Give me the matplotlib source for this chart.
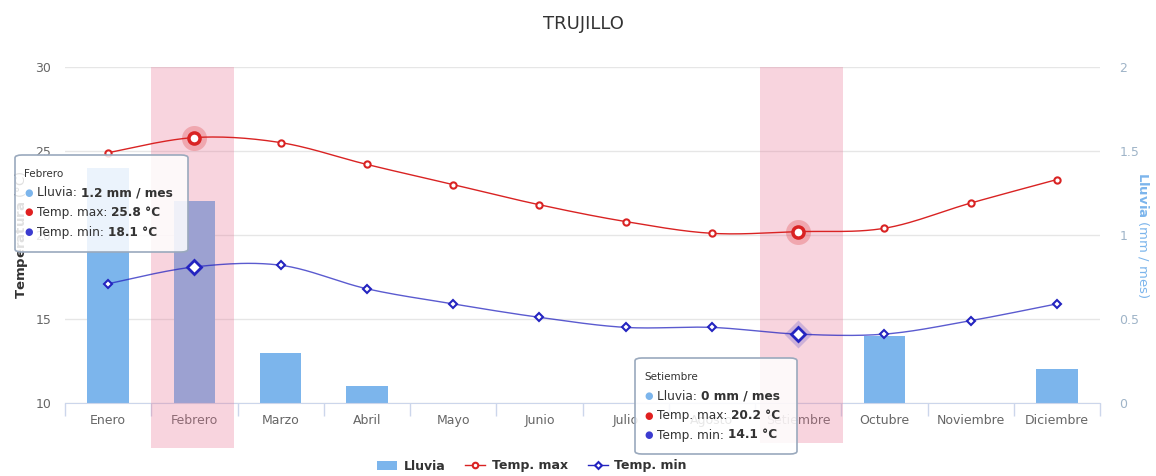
import matplotlib
matplotlib.use("Agg")
import matplotlib.pyplot as plt
import numpy as np
from matplotlib.lines import Line2D
from matplotlib.patches import FancyBboxPatch, Patch, Rectangle
import matplotlib.transforms as mtransforms

plt.rcParams['font.family'] = ['DejaVu Sans']
plt.rcParams['mathtext.fontset'] = 'dejavusans'

# data
months = ["Enero", "Febrero", "Marzo", "Abril", "Mayo", "Junio", "Julio",
          "Agosto", "Setiembre", "Octubre", "Noviembre", "Diciembre"]
lluvia = [1.4, 1.2, 0.3, 0.1, 0, 0, 0, 0, 0, 0.4, 0, 0.2]
temp_max = [24.9, 25.8, 25.5, 24.2, 23.0, 21.8, 20.8, 20.1, 20.2, 20.4, 21.9, 23.3]
temp_min = [17.1, 18.1, 18.2, 16.8, 15.9, 15.1, 14.5, 14.5, 14.1, 14.1, 14.9, 15.9]
highlight = [1, 8]  # Febrero, Setiembre

C_BAR = "#7cb5ec"
C_MAX = "#d92323"
C_MIN = "#2424c0"
C_BAND = (0.91, 0.45, 0.58, 0.30)


def spline(xs, ys, n=24):
    # catmull-rom curve through the points, for drawing only
    xs = np.asarray(xs, float)
    ys = np.asarray(ys, float)
    px = np.concatenate([[xs[0]], xs, [xs[-1]]])
    py = np.concatenate([[ys[0]], ys, [ys[-1]]])
    ox, oy = [], []
    for i in range(1, len(px) - 2):
        t = np.linspace(0, 1, n, endpoint=False)
        for p, out in ((px, ox), (py, oy)):
            p0, p1, p2, p3 = p[i - 1], p[i], p[i + 1], p[i + 2]
            m1 = (p2 - p0) / 2
            m2 = (p3 - p1) / 2
            h00 = 2 * t**3 - 3 * t**2 + 1
            h10 = t**3 - 2 * t**2 + t
            h01 = -2 * t**3 + 3 * t**2
            h11 = t**3 - t**2
            out.extend(h00 * p1 + h10 * m1 + h01 * p2 + h11 * m2)
    ox.append(xs[-1])
    oy.append(ys[-1])
    return np.array(ox), np.array(oy)


W, H = 1156, 476
fig = plt.figure(figsize=(W / 100, H / 100), dpi=100)
ax = fig.add_axes([65 / W, 1 - 403 / H, (1100 - 65) / W, (403 - 67) / H])
ax2 = ax.twinx()
ax.set_zorder(ax2.get_zorder() + 1)
ax.patch.set_visible(False)

x = np.arange(len(months))

# rain bars on right axis
ax2.bar(x, lluvia, width=0.48, color=C_BAR, zorder=2)
ax2.set_ylim(0, 2)
ax2.set_yticks([0, 0.5, 1, 1.5, 2])
ax2.set_yticklabels(["0", "0.5", "1", "1.5", "2"])
ax2.tick_params(axis='y', length=0, colors="#9fb4c8", labelsize=9, pad=14)
ax2.set_ylabel(r"$\mathbf{Lluvia}$ (mm / mes)", color=C_BAR, fontsize=9.5,
               rotation=270, labelpad=8)
ax2.grid(axis='y', color="#e6e6e6", linewidth=1)
ax2.set_axisbelow(True)

# temperature axis
ax.set_xlim(-0.5, 11.5)
ax.set_ylim(10, 30)
ax.set_yticks([10, 15, 20, 25, 30])
ax.tick_params(axis='y', length=0, colors="#666666", labelsize=9, pad=10)
ax.set_xticks(x)
ax.set_xticklabels(months)
ax.tick_params(axis='x', length=0, colors="#666666", labelsize=9, pad=8)
ax.set_xticks(np.arange(-0.5, 12, 1), minor=True)
ax.tick_params(axis='x', which='minor', length=9, color="#ccd6eb", width=1)
ax.set_ylabel(r"$\mathbf{Temperatura}$ (°C)", color="#333333", fontsize=9.5,
              labelpad=4)
for a in (ax, ax2):
    for s in a.spines.values():
        s.set_visible(False)
ax.spines['bottom'].set_visible(True)
ax.spines['bottom'].set_color("#ccd6eb")

# hover bands
trans = mtransforms.blended_transform_factory(ax.transData, ax.transAxes)
for i, shift, bottom in zip(highlight, [0.0, 0.06], [-0.134, -0.119]):
    ax.add_patch(Rectangle((i - 0.5 + shift, bottom), 0.96, 1 - bottom,
                           transform=trans, facecolor=C_BAND, edgecolor='none',
                           zorder=3, clip_on=False))

# spline lines
sx, sy = spline(x, temp_max)
ax.plot(sx, sy, color=C_MAX, lw=1, zorder=4)
ax.plot(x, temp_max, ls='none', marker='o', ms=4.5, mfc='white', mec=C_MAX,
        mew=1.5, zorder=5)
sx, sy = spline(x, temp_min)
ax.plot(sx, sy, color=C_MIN, lw=1, alpha=0.75, zorder=4)
ax.plot(x, temp_min, ls='none', marker='D', ms=4, mfc='white', mec=C_MIN,
        mew=1.5, zorder=5)

for i in highlight:
    ax.plot(i, temp_max[i], marker='o', ms=18, mfc=C_MAX, mec='none',
            alpha=0.25, zorder=5)
    ax.plot(i, temp_max[i], marker='o', ms=8, mfc='white', mec=C_MAX,
            mew=2.5, zorder=6)
    ax.plot(i, temp_min[i], marker='D', ms=14, mfc=C_MIN, mec='none',
            alpha=0.2 if i == 8 else 0, zorder=5)
    ax.plot(i, temp_min[i], marker='D', ms=7, mfc='white', mec=C_MIN,
            mew=2, zorder=6)

# title
fig.text(583 / W, 1 - 24 / H, "TRUJILLO", ha='center', va='center',
         fontsize=13, color="#333333")


# tooltips
def px(xp, yp):
    return xp / W, 1 - yp / H


def tooltip(x0, y0, w, h, name, i):
    box = FancyBboxPatch(px(x0, y0 + h), w / W, h / H,
                         boxstyle="round,pad=0,rounding_size=0.006",
                         transform=fig.transFigure, facecolor=(1, 1, 1, 0.85),
                         edgecolor="#9aa9bd", linewidth=1.2, zorder=20)
    fig.patches.append(box)
    fig.text(*px(x0 + 9, y0 + 19), name, fontsize=7.5, color="#333333",
             va='center', zorder=21)
    rows = [("#7cb5ec", "Lluvia: ", f"{lluvia[i]:g} mm / mes"),
            ("#e02020", "Temp. max: ", f"{temp_max[i]:.1f} °C"),
            ("#3c3cd0", "Temp. min: ", f"{temp_min[i]:.1f} °C")]
    for k, (c, lab, val) in enumerate(rows):
        yy = y0 + 38 + k * 19.5
        fig.text(*px(x0 + 14, yy), "●", color=c, fontsize=7, ha='center',
                 va='center', zorder=21)
        t = fig.text(*px(x0 + 22, yy), lab, fontsize=8.7, color="#333333",
                     va='center', zorder=21)
        ann = plt.annotate(val, xy=(1, 0.5), xycoords=t, va='center',
                           fontsize=8.7, fontweight='bold', color="#333333",
                           annotation_clip=False, zorder=21)
        fig.texts.append(ann)


tooltip(15, 155, 173, 97, "Febrero", 1)
tooltip(635, 358, 162, 96, "Setiembre", 8)

# legend
handles = [Patch(facecolor=C_BAR, edgecolor='none'),
           Line2D([], [], color=C_MAX, lw=1, marker='o', ms=4, mfc='white',
                  mec=C_MAX, mew=1.5),
           Line2D([], [], color=C_MIN, lw=1, marker='D', ms=3.5, mfc='white',
                  mec=C_MIN, mew=1.5)]
leg = fig.legend(handles, ["Lluvia", "Temp. max", "Temp. min"], loc='center',
                 bbox_to_anchor=(532 / W, 1 - 466 / H), ncol=3, frameon=False,
                 prop={'weight': 'bold', 'size': 9}, handlelength=1.6,
                 handletextpad=0.5, columnspacing=1.6)
for t in leg.get_texts():
    t.set_color("#333333")

fig.savefig("out.png", dpi=100)
